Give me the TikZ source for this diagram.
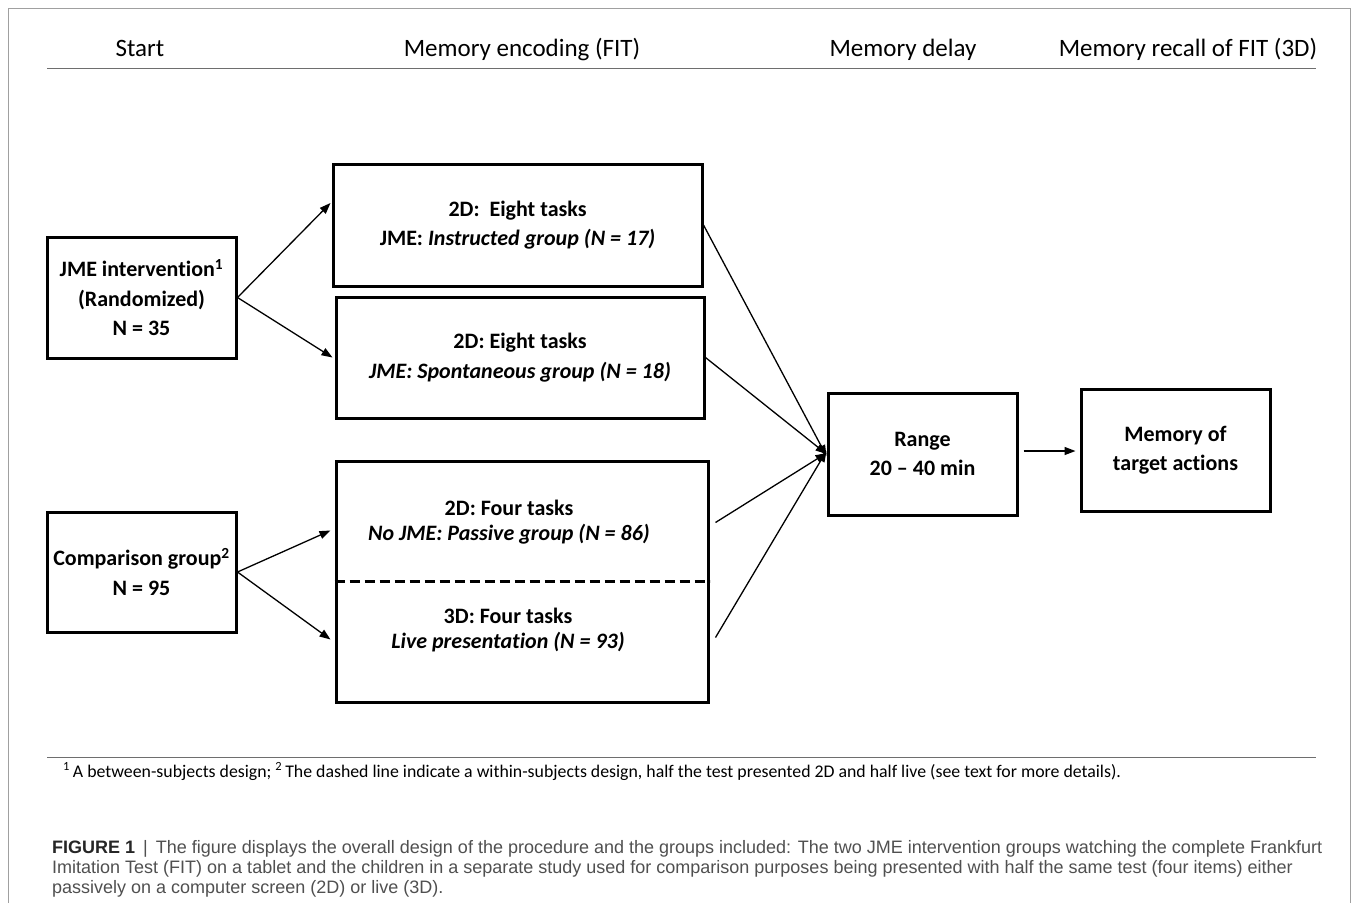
\documentclass[tikz,border=0pt]{standalone}
\usepackage{fontspec}
\setmainfont{Carlito}[Ligatures=NoCommon]
\newfontfamily\capfont{Liberation Sans}
\usetikzlibrary{arrows.meta,calc}
\definecolor{framegray}{RGB}{160,160,160}
\definecolor{rulegray}{RGB}{110,110,110}
\definecolor{capgray}{RGB}{80,80,80}
\begin{document}
\begin{tikzpicture}[x=1pt,y=-1pt,
  box/.style={draw=black,line width=3pt,align=center,inner sep=0pt,
    font=\bfseries\fontsize{22}{29.5}\selectfont},
  btext/.style={align=center,inner sep=0pt,font=\bfseries\fontsize{22}{25}\selectfont},
  arr/.style={line width=1.3pt,-{Triangle[length=11pt,width=8pt]}},
  hdr/.style={anchor=base,inner sep=0pt,font=\fontsize{25}{30}\selectfont},
  framestyle/.style={draw=framegray,line width=1pt},
  rulestyle/.style={draw=rulegray,line width=0.9pt},
  foot/.style={anchor=base west,inner sep=0pt,font=\fontsize{17.8}{20}\selectfont},
  captext/.style={anchor=base west,inner sep=0pt,text=capgray,font=\capfont\fontsize{18}{20}\selectfont}]
\useasboundingbox (0,0) rectangle (1357,903);
\fill[white] (0,0) rectangle (1357,903);
% outer frame
\draw[framestyle] (8,903) -- (8,8) -- (1350,8) -- (1350,903);
% header
\node[hdr] (h1) at (140,56) {Start};
\node[hdr] (h2) at (522,56) {Memory encoding (FIT)};
\node[hdr] (h3) at (903,56) {Memory delay};
\node[hdr] (h4) at (1188,56) {Memory recall of FIT (3D)};
\draw[rulestyle] (47,68) -- (1316,68);
% boxes
\node[box,minimum width=189pt,minimum height=121pt] (jme) at (141.5,297.5)
  {JME intervention\textsuperscript{1}\\(Randomized)\\N = 35};
\node[box,minimum width=189pt,minimum height=120pt] (comp) at (141.5,572)
  {Comparison group\textsuperscript{2}\\N = 95};
\node[box,minimum width=369pt,minimum height=122pt] (instr) at (517.5,225)
  {2D:\ \ Eight tasks\\JME: \textit{Instructed group (N = 17)}};
\node[box,minimum width=368pt,minimum height=121pt] (spont) at (520,357.5)
  {2D: Eight tasks\\\textit{JME: Spontaneous group (N = 18)}};
\node[box,minimum width=372pt,minimum height=241pt] (big) at (522,581.5) {};
\node[btext] (t2d) at (509,522) {2D: Four tasks\\\textit{No JME: Passive group (N = 86)}};
\node[btext] (t3d) at (508,630) {3D: Four tasks\\\textit{Live presentation (N = 93)}};
\draw[line width=3pt,dash pattern=on 10pt off 5pt] (big.west) -- (big.east);
\node[box,minimum width=189pt,minimum height=122pt] (range) at (922.5,454)
  {Range\\20 -- 40 min};
\node[box,minimum width=189pt,minimum height=122pt] (mem) at (1175.5,450)
  {Memory of\\target actions};
% connectors
\draw[arr] (jme.east) -- ([xshift=-1pt,yshift=22pt]instr.west);
\draw[arr] (jme.east) -- ([xshift=-2pt,yshift=0pt]spont.west);
\draw[arr] (comp.east) -- ([xshift=-4pt,yshift=51pt]big.west);
\draw[arr] (comp.east) -- ([xshift=-4pt,yshift=-58pt]big.west);
\draw[arr] (instr.east) -- ([yshift=-2pt]range.west);
\draw[arr] (spont.east) -- ([yshift=0pt]range.west);
\draw[arr] ([xshift=6pt,yshift=59pt]big.east) -- ([yshift=1pt]range.west);
\draw[arr] ([xshift=6pt,yshift=-56pt]big.east) -- ([yshift=3pt]range.west);
\draw[arr] ([xshift=5pt,yshift=3pt]range.east) -- ([xshift=-4pt,yshift=-1pt]mem.west);
% footnote
\draw[rulestyle] (47,757) -- (1316,757);
\node[foot] (fn) at (63,777) {\textsuperscript{1}\,A between-subjects design; \textsuperscript{2}\,The dashed line indicate a within-subjects design, half the test presented 2D and half live (see text for more details).};
% caption
\node[captext] (c1) at (52,853) {{\bfseries\color{black!85}FIGURE 1} \,|\, The figure displays the overall design of the procedure and the groups included: The two JME intervention groups watching the complete Frankfurt};
\node[captext] (c2) at (52,873) {Imitation Test (FIT) on a tablet and the children in a separate study used for comparison purposes being presented with half the same test (four items) either};
\node[captext] (c3) at (52,893) {passively on a computer screen (2D) or live (3D).};
\end{tikzpicture}
\end{document}
